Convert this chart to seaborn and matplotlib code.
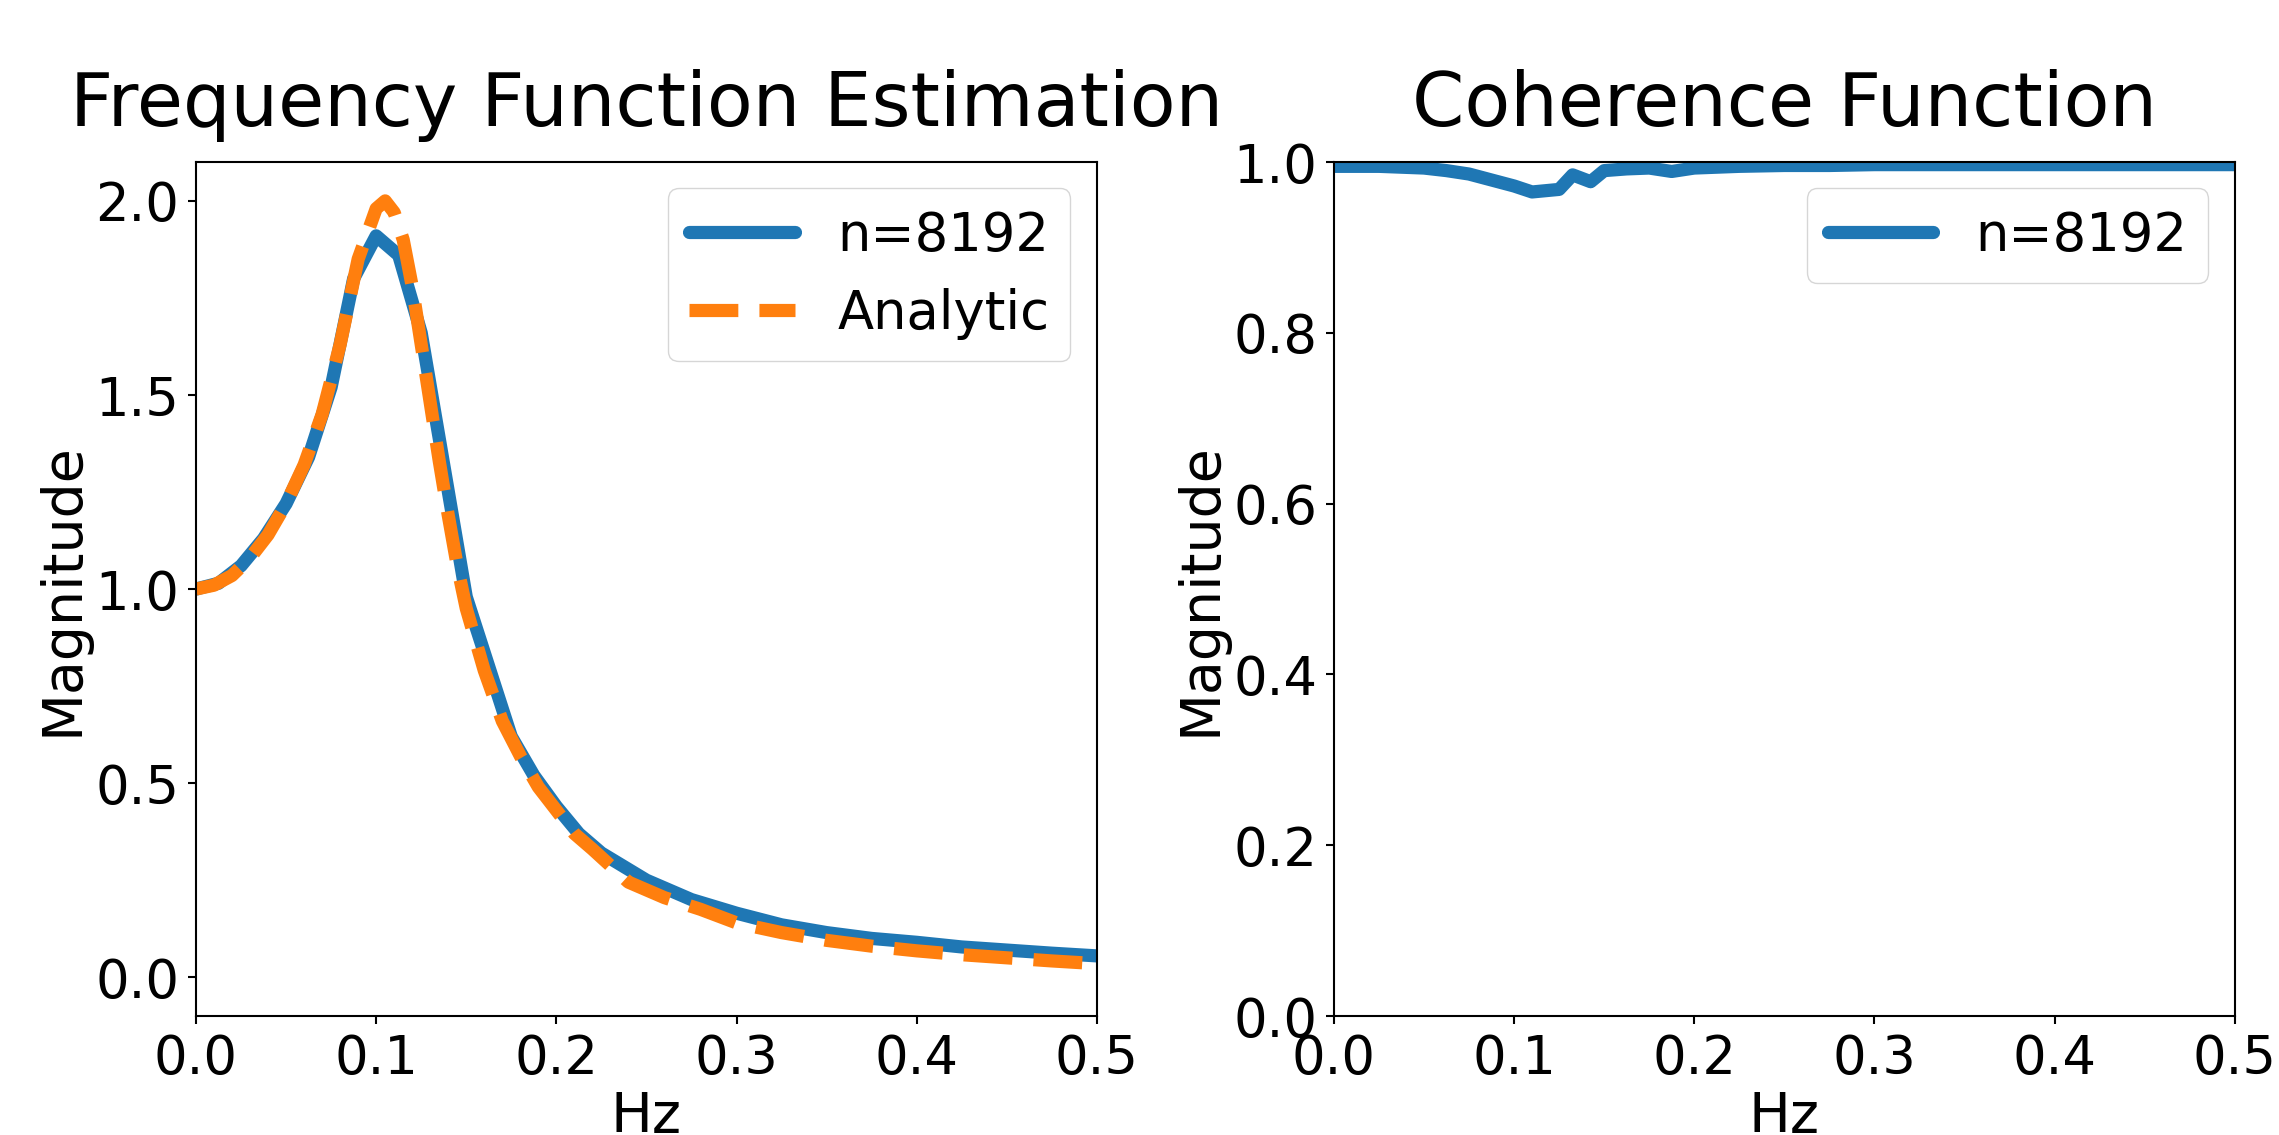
import matplotlib
matplotlib.use("Agg")
import matplotlib.pyplot as plt
import seaborn as sns

# Estimated frequency response (n=8192)
freq_est = [0.0, 0.0125, 0.025, 0.0375, 0.05, 0.0625, 0.075, 0.0875, 0.1, 0.1125,
            0.125, 0.1375, 0.15, 0.1625, 0.175, 0.1875, 0.2, 0.2125, 0.225, 0.25,
            0.275, 0.3, 0.325, 0.35, 0.375, 0.4, 0.425, 0.45, 0.475, 0.5]
mag_est = [1.00, 1.015, 1.06, 1.13, 1.22, 1.34, 1.52, 1.80, 1.91, 1.86,
           1.66, 1.32, 0.98, 0.80, 0.62, 0.52, 0.44, 0.37, 0.32, 0.25,
           0.20, 0.165, 0.135, 0.115, 0.10, 0.09, 0.078, 0.07, 0.062, 0.055]

# Analytic frequency response
freq_an = [0.0, 0.01, 0.02, 0.03, 0.04, 0.05, 0.06, 0.07, 0.08, 0.09,
           0.1, 0.105, 0.11, 0.115, 0.12, 0.125, 0.13, 0.135, 0.14, 0.145,
           0.15, 0.16, 0.17, 0.18, 0.19, 0.2, 0.21, 0.22, 0.24, 0.26,
           0.28, 0.3, 0.325, 0.35, 0.375, 0.4, 0.425, 0.45, 0.475, 0.5]
mag_an = [1.0, 1.01, 1.035, 1.08, 1.14, 1.22, 1.32, 1.45, 1.63, 1.85,
          1.98, 2.0, 1.97, 1.90, 1.78, 1.63, 1.48, 1.33, 1.19, 1.06,
          0.95, 0.79, 0.66, 0.57, 0.49, 0.43, 0.37, 0.33, 0.245, 0.205,
          0.175, 0.14, 0.115, 0.095, 0.08, 0.068, 0.058, 0.05, 0.042, 0.035]

# Coherence (n=8192)
freq_coh = [0.0, 0.0125, 0.025, 0.0375, 0.05, 0.0625, 0.075, 0.0875, 0.1, 0.11,
            0.125, 0.1325, 0.1425, 0.15, 0.1625, 0.175, 0.1875, 0.2, 0.225, 0.25,
            0.275, 0.3, 0.35, 0.4, 0.45, 0.5]
coh = [0.995, 0.995, 0.995, 0.994, 0.993, 0.990, 0.986, 0.979, 0.972, 0.965,
       0.968, 0.985, 0.977, 0.990, 0.992, 0.993, 0.989, 0.993, 0.995, 0.996,
       0.996, 0.997, 0.997, 0.997, 0.997, 0.997]

sns.set_theme(style="ticks")
plt.rcParams['font.family'] = ['DejaVu Sans']
plt.rcParams.update({
    'axes.edgecolor': 'black', 'text.color': 'black', 'axes.labelcolor': 'black',
    'xtick.color': 'black', 'ytick.color': 'black', 'axes.linewidth': 1.5,
})

blue = '#1f77b4'
orange = '#ff7f0e'
lw = 9.5
tick_fs = 38
label_fs = 40
title_fs = 54

fig = plt.figure(figsize=(22.79, 11.35), dpi=100)
ax1 = fig.add_axes([0.086, 0.1048, 0.3953, 0.7524])
ax2 = fig.add_axes([0.5853, 0.1048, 0.3953, 0.7524])

# Frequency function
sns.lineplot(x=freq_est, y=mag_est, ax=ax1, color=blue, linewidth=lw, label='n=8192')
sns.lineplot(x=freq_an, y=mag_an, ax=ax1, color=orange, linewidth=lw, linestyle='--', label='Analytic')
ax1.set_xlim(0, 0.5)
ax1.set_ylim(-0.1, 2.1)
ax1.set_yticks([0.0, 0.5, 1.0, 1.5, 2.0])
ax1.set_title('Frequency Function Estimation', fontsize=title_fs, pad=26)
ax1.set_xlabel('Hz', fontsize=label_fs)
ax1.set_ylabel('Magnitude', fontsize=label_fs)
ax1.legend(loc='upper right', fontsize=tick_fs)

# Coherence
sns.lineplot(x=freq_coh, y=coh, ax=ax2, color=blue, linewidth=lw, label='n=8192')
ax2.set_xlim(0, 0.5)
ax2.set_ylim(0, 1.0)
ax2.set_title('Coherence Function', fontsize=title_fs, pad=26)
ax2.set_xlabel('Hz', fontsize=label_fs)
ax2.set_ylabel('Magnitude', fontsize=label_fs)
ax2.legend(loc='upper right', fontsize=tick_fs)

for ax in (ax1, ax2):
    ax.tick_params(labelsize=tick_fs, length=6, width=1.5, pad=6)
    for s in ax.spines.values():
        s.set_visible(True)

fig.savefig('out.png', dpi=100)
